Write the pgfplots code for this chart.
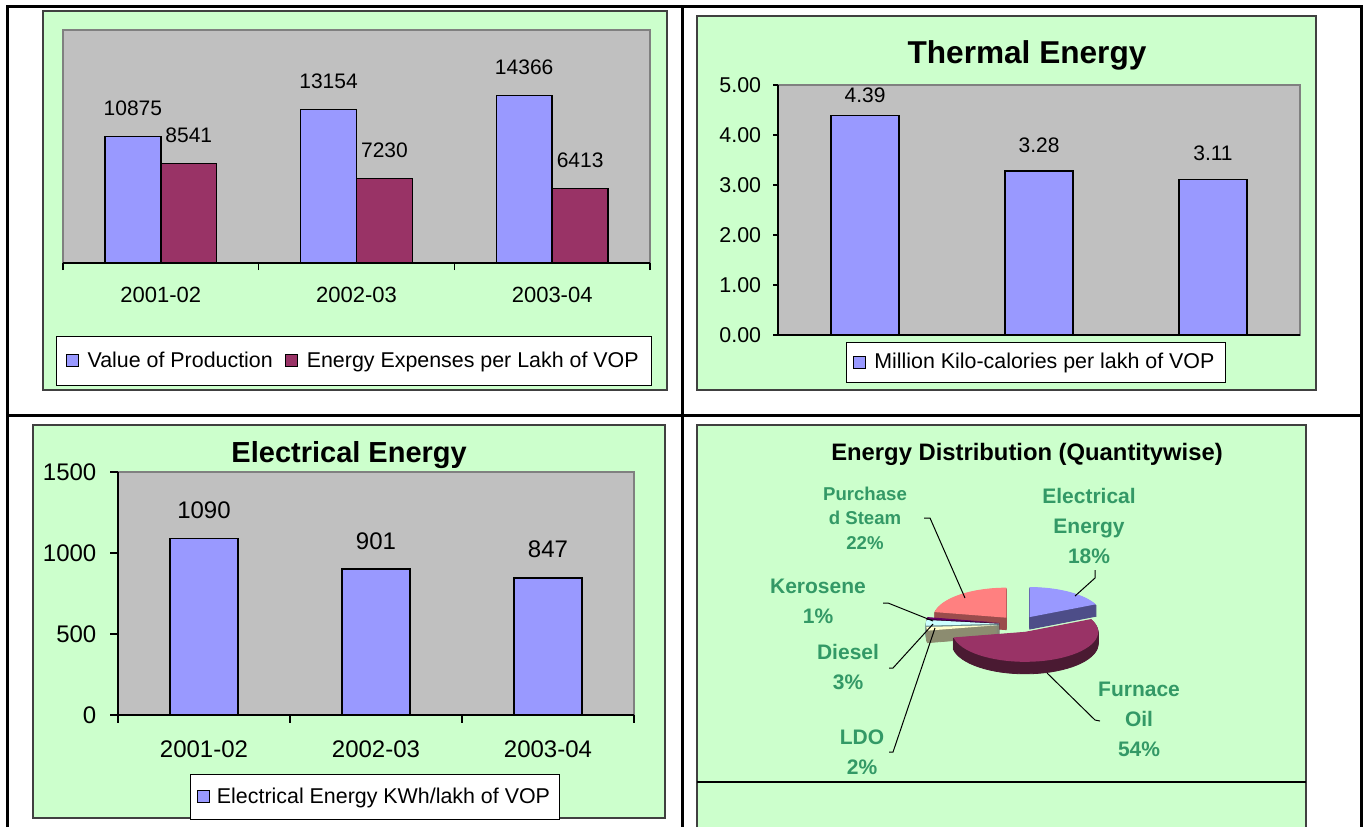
\documentclass[border=0pt]{standalone}
\usepackage{pgfplots}
\pgfplotsset{compat=1.18}
\usepackage{fontspec}
\setmainfont{Liberation Sans}
\definecolor{gbg}{HTML}{CCFFCC}
\definecolor{plotgray}{HTML}{C0C0C0}
\definecolor{bordergray}{HTML}{808080}
\definecolor{panelborder}{HTML}{404040}
\definecolor{xlblue}{HTML}{9999FF}
\definecolor{xlplum}{HTML}{993366}
\definecolor{lblgreen}{HTML}{339966}
\definecolor{cE}{HTML}{9999FF}\definecolor{sE}{HTML}{4D4D88}
\definecolor{cF}{HTML}{993366}\definecolor{sF}{HTML}{4A1A32}
\definecolor{cL}{HTML}{FFFFCC}\definecolor{sL}{HTML}{8C8C70}
\definecolor{cD}{HTML}{CCFFFF}\definecolor{sD}{HTML}{6E9090}
\definecolor{cK}{HTML}{660066}\definecolor{sK}{HTML}{330033}
\definecolor{cS}{HTML}{FF8080}\definecolor{sS}{HTML}{9A4C4C}
\newcommand\fs[2]{\fontsize{#1}{#2}\selectfont}
\pgfplotsset{
  sqleg/.style={legend image code/.code={\draw[##1,draw=black,line width=0.5pt] (0pt,-3pt) rectangle (6pt,3pt);}},
}
% pie slice: #1 cumulative percent before, #2 percent, #3 top colour, #4 side colour
\newcommand\pieslice[4]{%
  \pgfmathsetmacro\hi{90-3.6*#1}%
  \pgfmathsetmacro\lo{\hi-3.6*#2}%
  \pgfmathsetmacro\pmid{(\hi+\lo)/2}%
  \pgfmathsetmacro\ox{1019+20*cos(\pmid)}%
  \pgfmathsetmacro\oy{-624+20*0.411*sin(\pmid)}%
  \pgfplotsinvokeforeach{12,11,...,1}{%
    \pgfmathsetmacro\oyk{\oy-##1}%
    \edef\temp{\noexpand\addplot[fill=#4, draw=#4, line width=0.4pt, domain=\lo:\hi, samples=40] ({\ox+73*cos(x)},{\oyk+30*sin(x)}) -- (axis cs:\ox,\oyk) -- cycle;}%
    \temp}%
  \edef\temp{\noexpand\addplot[fill=#3, draw=none, domain=\lo:\hi, samples=40] ({\ox+73*cos(x)},{\oy+30*sin(x)}) -- (axis cs:\ox,\oy) -- cycle;}%
  \temp}
\begin{document}
\begin{tikzpicture}
\begin{scope}[x=0.5pt,y=-0.5pt]
  \useasboundingbox (0,0) rectangle (1363,827);
  \fill[white] (0,0) rectangle (1363,827);
  % panels
  \filldraw[fill=gbg, draw=panelborder, line width=0.6pt] (43,11) rectangle (667,390);
  \filldraw[fill=gbg, draw=panelborder, line width=0.6pt] (697,16) rectangle (1316,390);
  \filldraw[fill=gbg, draw=panelborder, line width=0.6pt] (33,425) rectangle (665,818);
  \fill[gbg] (697,425) rectangle (1306,827);
  \draw[panelborder, line width=0.6pt] (697,827) -- (697,425) -- (1306,425) -- (1306,827);
  \draw[black, line width=0.6pt] (697,782) -- (1306,782);
  % table grid
  \draw[black, line width=1.5pt] (7,827) -- (7,6) -- (1361,6) -- (1361,827);
  \draw[black, line width=1.5pt] (682,6) -- (682,827);
  \draw[black, line width=1.5pt] (7,415) -- (1361,415);
\end{scope}

% ---------- Panel 1 ----------
\begin{axis}[
  at={(31.5pt,-131.5pt)}, anchor=south west, scale only axis,
  width=293.5pt, height=116.5pt,
  xmin=0.5, xmax=3.5, ymin=0, ymax=20000,
  ybar, bar width=0.286,
  axis background/.style={fill=plotgray, draw=bordergray, line width=0.6pt},
  axis x line*=bottom, axis y line=none,
  x axis line style={black, line width=0.6pt},
  xtick={0.5,1.5,2.5,3.5}, xticklabels={,,,},
  tick align=outside, major tick length=3.5pt,
  xtick style={black, line width=0.6pt},
  extra x ticks={1,2,3}, extra x tick labels={2001-02,2002-03,2003-04},
  extra x tick style={major tick length=0pt, tick label style={yshift=-8.4pt}},
  ticklabel style={font=\fs{11}{13}},
  ytick=\empty,
  nodes near coords, point meta=explicit symbolic,
  every node near coord/.append style={font=\fs{10.5}{12}, black, yshift=6.7pt},
  legend columns=2,
  legend style={at={(0.496,-0.42)}, anchor=center, draw=black, fill=white, line width=0.5pt,
    font=\fs{10.7}{12}, inner xsep=4.5pt, inner ysep=5.5pt,
    /tikz/every odd column/.append style={column sep=2.5pt},
    /tikz/every even column/.append style={column sep=4pt}},
  clip=false,
]
\addplot[bar shift=-0.143, fill=xlblue, draw=black, line width=0.7pt, sqleg]
  coordinates {(1,10875)[10875] (2,13154)[13154] (3,14366)[14366]};
\addplot[bar shift=0.143, fill=xlplum, draw=black, line width=0.7pt, sqleg]
  coordinates {(1,8541)[8541] (2,7230)[7230] (3,6413)[6413]};
\legend{Value of Production, Energy Expenses per Lakh of VOP}
\end{axis}

% ---------- Panel 2 ----------
\begin{axis}[
  at={(389pt,-167.5pt)}, anchor=south west, scale only axis,
  width=261pt, height=125pt,
  xmin=0.5, xmax=3.5, ymin=0, ymax=5,
  ybar, bar width=0.391,
  axis background/.style={fill=plotgray, draw=bordergray, line width=0.6pt},
  axis x line*=bottom, axis y line*=left,
  axis line style={black, line width=0.6pt},
  xtick=\empty,
  ytick={0,1,2,3,4,5}, yticklabels={0.00,1.00,2.00,3.00,4.00,5.00},
  tick align=outside, major tick length=2.5pt,
  ytick style={black, line width=0.6pt},
  yticklabel style={font=\fs{10.7}{12}, xshift=-2.4pt},
  title={Thermal Energy},
  title style={at={(0.477,1.132)}, anchor=center, yshift=-7.5pt, font=\bfseries\fs{15.8}{18}},
  nodes near coords, point meta=explicit symbolic,
  every node near coord/.append style={font=\fs{10.5}{12}, black},
  legend style={at={(0.494,-0.11)}, anchor=center, draw=black, fill=white, line width=0.5pt,
    font=\fs{10.7}{12}, inner xsep=3.5pt, inner ysep=3.5pt,
    /tikz/every odd column/.append style={column sep=2pt}},
  clip=false,
]
\addplot[bar shift=0, fill=xlblue, draw=black, line width=0.7pt, sqleg,
  every node near coord/.append style={yshift=5.6pt}]
  coordinates {(2,3.28)[3.28] (3,3.11)[3.11]};
\addplot[bar shift=0, fill=xlblue, draw=black, line width=0.7pt, forget plot,
  every node near coord/.append style={yshift=2.6pt}]
  coordinates {(1,4.39)[4.39]};
\legend{Million Kilo-calories per lakh of VOP}
\end{axis}

% ---------- Panel 3 ----------
\begin{axis}[
  at={(59pt,-357.5pt)}, anchor=south west, scale only axis,
  width=258pt, height=121.5pt,
  xmin=0.5, xmax=3.5, ymin=0, ymax=1500,
  ybar, bar width=0.395,
  axis background/.style={fill=plotgray, draw=bordergray, line width=0.6pt},
  axis x line*=bottom, axis y line*=left,
  axis line style={black, line width=0.6pt},
  xtick={0.5,1.5,2.5,3.5}, xticklabels={,,,},
  extra x ticks={1,2,3}, extra x tick labels={2001-02,2002-03,2003-04},
  extra x tick style={major tick length=0pt, tick label style={yshift=-9.2pt}},
  ytick={0,500,1000,1500}, yticklabels={0,500,1000,1500},
  tick align=outside, major tick length=3.8pt,
  tick style={black, line width=0.6pt},
  ticklabel style={font=\fs{12}{14}},
  yticklabel style={xshift=-3.5pt},
  title={Electrical Energy},
  title style={at={(0.448,1.082)}, anchor=center, yshift=-7.5pt, font=\bfseries\fs{14.5}{17}},
  nodes near coords, point meta=explicit symbolic,
  every node near coord/.append style={font=\fs{12}{14}, black, yshift=6.2pt},
  legend style={at={(0.499,-0.337)}, anchor=center, draw=black, fill=white, line width=0.5pt,
    font=\fs{10.7}{12}, inner xsep=3pt, inner ysep=4.5pt,
    /tikz/every odd column/.append style={column sep=1.5pt}},
  clip=false,
]
\addplot[bar shift=0, fill=xlblue, draw=black, line width=0.7pt, sqleg]
  coordinates {(1,1090)[1090] (2,901)[901] (3,847)[847]};
\legend{Electrical Energy KWh/lakh of VOP}
\end{axis}

% ---------- Panel 4 (pie) ----------
\begin{axis}[
  at={(348.5pt,-413.5pt)}, anchor=south west, scale only axis,
  width=304.5pt, height=201pt,
  xmin=697, xmax=1306, ymin=-827, ymax=-425,
  hide axis, clip=false,
]
% data: Electrical 18, Furnace Oil 54, LDO 2, Diesel 3, Kerosene 1, Purchased Steam 22
\pieslice{0}{18}{cE}{sE}
\pieslice{78}{22}{cS}{sS}
\pieslice{77}{1}{cK}{sK}
\pieslice{74}{3}{cD}{sD}
\pieslice{72}{2}{cL}{sL}
\pieslice{18}{54}{cF}{sF}
% leader lines
\addplot[black, line width=0.5pt] coordinates {(1095,-570) (1095,-578) (1075,-596)};
\addplot[black, line width=0.5pt] coordinates {(924,-518) (930,-518) (965,-598)};
\addplot[black, line width=0.5pt] coordinates {(883,-603) (888,-603) (933,-621)};
\addplot[black, line width=0.5pt] coordinates {(889,-668) (893,-668) (933,-624)};
\addplot[black, line width=0.5pt] coordinates {(889,-752) (893,-752) (935,-628)};
\addplot[black, line width=0.5pt] coordinates {(1100,-721) (1095,-720) (1047,-673)};
% labels
\node[font=\bfseries\fs{11.9}{14}, black] at (axis cs:1027,-454) {Energy Distribution (Quantitywise)};
\node[font=\bfseries\fs{10.5}{15}, text=lblgreen, align=center] at (axis cs:1089,-526) {Electrical\\Energy\\18\%};
\node[font=\bfseries\fs{9.3}{12.2}, text=lblgreen, align=center] at (axis cs:865,-518) {Purchase\\d Steam\\22\%};
\node[font=\bfseries\fs{10.5}{15}, text=lblgreen, align=center] at (axis cs:818,-601) {Kerosene\\1\%};
\node[font=\bfseries\fs{10.5}{15}, text=lblgreen, align=center] at (axis cs:848,-667) {Diesel\\3\%};
\node[font=\bfseries\fs{10.5}{15}, text=lblgreen, align=center] at (axis cs:862,-752) {LDO\\2\%};
\node[font=\bfseries\fs{10.5}{15}, text=lblgreen, align=center] at (axis cs:1139,-719) {Furnace\\Oil\\54\%};
\end{axis}
\end{tikzpicture}
\end{document}
